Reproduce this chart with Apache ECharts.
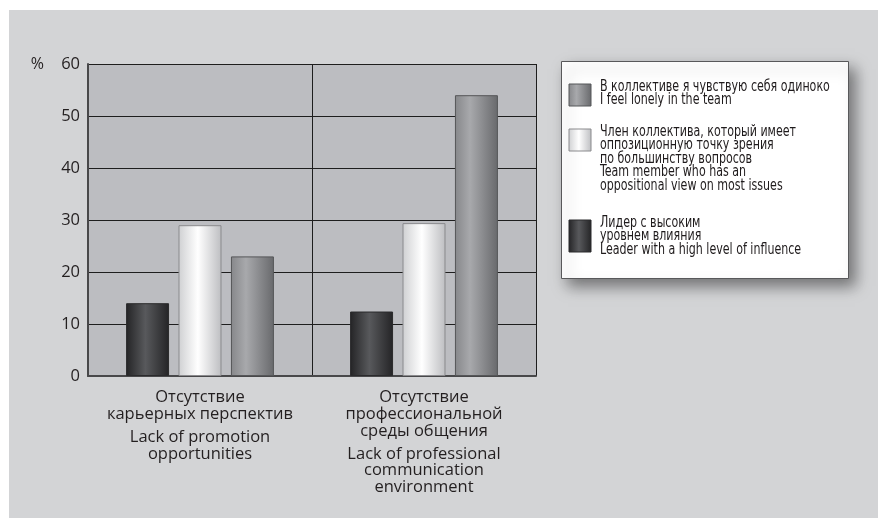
<!DOCTYPE html>
<html>
<head>
<meta charset="utf-8">
<script src="https://cdn.jsdelivr.net/npm/echarts@6/dist/echarts.min.js"></script>
<style>
  html, body { margin: 0; padding: 0; background: #ffffff; }
  #chart { width: 878px; height: 518px; }
</style>
</head>
<body>
<div id="chart"></div>
<script>
// Categories (two-block labels: Russian, then English)
const categoriesRu = ['Отсутствие\nкарьерных перспектив', 'Отсутствие\nпрофессиональной\nсреды общения'];
const categoriesEn = ['Lack of promotion\nopportunities', 'Lack of professional\ncommunication\nenvironment'];

// Series values, %
const leaderValues = [14, 12.4];
const memberValues = [29, 29.4];
const lonelyValues = [23, 54];

// Legend texts
const lonelyLabel = ['В коллективе я чувствую себя одиноко', 'I feel lonely in the team'];
const memberLabel = ['Член коллектива, который имеет', 'оппозиционную точку зрения', 'по большинству вопросов', 'Team member who has an', 'oppositional view on most issues'];
const leaderLabel = ['Лидер с высоким', 'уровнем влияния', 'Leader with a high level of influence'];

// Y axis ticks
const yMin = 0, yMax = 60, yStep = 10;

const LG = echarts.graphic.LinearGradient;
const darkFill = new LG(0, 0, 1, 0, [
  { offset: 0, color: '#242426' }, { offset: 0.45, color: '#58595c' }, { offset: 1, color: '#242426' }
]);
const whiteFill = new LG(0, 0, 1, 0, [
  { offset: 0, color: '#cfd0d2' }, { offset: 0.45, color: '#ffffff' }, { offset: 1, color: '#bdbec1' }
]);
const grayFill = new LG(0, 0, 1, 0, [
  { offset: 0, color: '#86878a' }, { offset: 0.35, color: '#a8a9ac' }, { offset: 1, color: '#68696c' }
]);

const catLabels = categoriesRu.map((ru, i) => ru + '\n\u0001\n' + categoriesEn[i]);

const legendFont = '"DejaVu Sans Condensed", "DejaVu Sans", sans-serif';
const legendLineH = 13.6;

function legendItem(fill, stroke, iconY, iconH, textY, lines) {
  return [
    { type: 'rect', shape: { x: 569, y: iconY, width: 22, height: iconH },
      style: { fill: fill, stroke: stroke, lineWidth: 1 }, z: 101 },
    { type: 'text', x: 600, y: textY, z: 101, scaleX: 0.82,
      style: { text: lines.join('\n'), font: '15px ' + legendFont, fill: '#1f1b1c',
               lineHeight: legendLineH, verticalAlign: 'top' } }
  ];
}

const chart = echarts.init(document.getElementById('chart'), null, { renderer: 'canvas' });

chart.setOption({
  animation: false,
  backgroundColor: '#ffffff',
  grid: { left: 88, right: 342, top: 64, bottom: 142, show: true, backgroundColor: '#bcbdc1', borderWidth: 0 },
  xAxis: {
    type: 'category',
    data: catLabels,
    axisLine: { show: true, lineStyle: { color: '#48484a', width: 2 } },
    axisTick: { show: false },
    splitLine: { show: true, lineStyle: { color: '#1e1e1e', width: 1 } },
    axisLabel: {
      margin: 13,
      interval: 0,
      formatter: function (v) {
        const parts = v.split('\n\u0001\n');
        return '{a|' + parts[0] + '}\n{g| }\n{a|' + parts[1] + '}';
      },
      rich: {
        a: { fontFamily: '"Open Sans", sans-serif', fontSize: 16.5, lineHeight: 16.8, color: '#231f20', align: 'center' },
        g: { fontSize: 4, lineHeight: 6 }
      }
    }
  },
  yAxis: {
    type: 'value',
    min: yMin, max: yMax, interval: yStep,
    name: '%',
    nameLocation: 'end',
    nameGap: 0,
    nameTextStyle: { fontFamily: '"Open Sans", sans-serif', fontSize: 16, color: '#231f20',
                     align: 'right', verticalAlign: 'middle', padding: [0, 44, 0, 0] },
    axisLine: { show: true, lineStyle: { color: '#48484a', width: 2 } },
    axisTick: { show: false },
    axisLabel: { margin: 8, fontFamily: '"Open Sans", sans-serif', fontSize: 16.5, color: '#231f20' },
    splitLine: { show: true, lineStyle: { color: '#1e1e1e', width: 1 } }
  },
  series: [
    { name: leaderLabel.join(' '), type: 'bar', data: leaderValues, barGap: '22%', barCategoryGap: '34%',
      itemStyle: { color: darkFill, borderColor: '#2a2a2c', borderWidth: 1 } },
    { name: memberLabel.join(' '), type: 'bar', data: memberValues,
      itemStyle: { color: whiteFill, borderColor: '#8a8a8d', borderWidth: 1 } },
    { name: lonelyLabel.join(' '), type: 'bar', data: lonelyValues,
      itemStyle: { color: grayFill, borderColor: '#555658', borderWidth: 1 } }
  ],
  graphic: [
    // panel background
    { type: 'rect', shape: { x: 9, y: 10, width: 878, height: 518 }, style: { fill: '#d3d4d6' }, z: -10, silent: true },
    // legend box
    { type: 'rect', shape: { x: 561.5, y: 61.5, width: 287, height: 217 }, z: 100,
      style: { fill: '#ffffff', stroke: '#58585a', lineWidth: 1,
               shadowBlur: 14, shadowOffsetX: 6, shadowOffsetY: 7, shadowColor: 'rgba(0,0,0,0.45)' } },
    ...legendItem(grayFill, '#555658', 84, 22, 80, lonelyLabel),
    ...legendItem(whiteFill, '#8a8a8d', 129, 22, 125, memberLabel),
    ...legendItem(darkFill, '#2a2a2c', 220, 32, 216, leaderLabel)
  ]
});
</script>
</body>
</html>
